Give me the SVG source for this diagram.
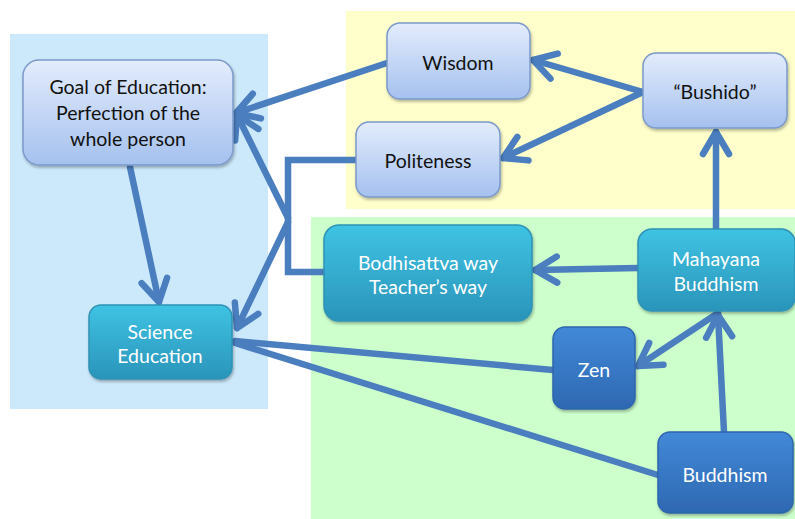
<svg xmlns="http://www.w3.org/2000/svg" width="795" height="519" viewBox="0 0 795 519">
<defs>
<linearGradient id="gLight" x1="0" y1="0" x2="0" y2="1"><stop offset="0" stop-color="#e3ecfc"/><stop offset="1" stop-color="#a5c1ef"/></linearGradient>
<linearGradient id="gTeal" x1="0" y1="0" x2="0" y2="1"><stop offset="0" stop-color="#3fc3e3"/><stop offset="1" stop-color="#2a94ba"/></linearGradient>
<linearGradient id="gDark" x1="0" y1="0" x2="0" y2="1"><stop offset="0" stop-color="#4289d8"/><stop offset="1" stop-color="#2e68b2"/></linearGradient>
<filter id="sh" x="-10%" y="-10%" width="130%" height="130%"><feDropShadow dx="1" dy="2" stdDeviation="1.5" flood-color="#000" flood-opacity="0.3"/></filter>
<marker id="arr" markerUnits="userSpaceOnUse" viewBox="-30 -17 34 34" markerWidth="34" markerHeight="34" refX="0" refY="0" orient="auto">
<path d="M-22,-13 L0,0 L-22,13" fill="none" stroke="#4a7ebf" stroke-width="6.5" stroke-linecap="round" stroke-linejoin="round"/>
</marker>
<style>
.light{fill:url(#gLight);stroke:#7b99c9;stroke-width:1.5;filter:url(#sh)}
.teal{fill:url(#gTeal);stroke:#2f93b5;stroke-width:1.5;filter:url(#sh)}
.dark{fill:url(#gDark);stroke:#2f66ad;stroke-width:1.5;filter:url(#sh)}
text{font-family:Lato,"Open Sans","Liberation Sans",sans-serif;font-size:19.5px;text-anchor:middle;dominant-baseline:central}
.tl{fill:#111}
.tw{fill:#fff}
.c{fill:none;stroke:#4a7ebf;stroke-width:6.5;stroke-linecap:round;stroke-linejoin:miter}
</style>
</defs>
<g id="regions">
<rect x="10" y="34" width="258" height="375" fill="#cce9fb"/>
<rect x="346" y="11" width="449" height="198" fill="#ffffcc"/>
<rect x="311" y="217" width="484" height="302" fill="#ccffcc"/>
</g>
<g id="connectors">
<path class="c" d="M356,160 H288 V272 H324"/>
<path class="c" d="M387,63 L236,113" marker-end="url(#arr)"/>
<path class="c" d="M643,92 L533,60" marker-end="url(#arr)"/>
<path class="c" d="M643,92 L503,158" marker-end="url(#arr)"/>
<path class="c" d="M716,229 L716,132" marker-end="url(#arr)"/>
<path class="c" d="M638,268 L535,270" marker-end="url(#arr)"/>
<path class="c" d="M718,313 L638,366" marker-end="url(#arr)"/>
<path class="c" d="M724,432 L718,315" marker-end="url(#arr)"/>
<path class="c" d="M130,167 L159,302" marker-end="url(#arr)"/>
<path class="c" d="M288,218 L237,115" marker-end="url(#arr)"/>
<path class="c" d="M288,222 L237,328" marker-end="url(#arr)"/>
<path class="c" d="M553,370 L235,341"/>
<path class="c" d="M658,475 L235,343"/>
</g>
<g id="goal"><rect class="light" x="23" y="60" width="210" height="105" rx="16"/>
<text class="tl" x="128" y="86">Goal of Education:</text><text class="tl" x="128" y="112">Perfection of the</text><text class="tl" x="128" y="138">whole person</text></g>
<g id="wisdom"><rect class="light" x="387" y="23" width="143" height="76" rx="13"/><text class="tl" x="458" y="62">Wisdom</text></g>
<g id="bushido"><rect class="light" x="643" y="53" width="144" height="75" rx="13"/><text class="tl" x="715" y="91">“Bushido”</text></g>
<g id="politeness"><rect class="light" x="356" y="122" width="144" height="75" rx="13"/><text class="tl" x="428" y="160">Politeness</text></g>
<g id="bodhisattva"><rect class="teal" x="324" y="225" width="208" height="96" rx="15"/><text class="tw" x="428" y="262">Bodhisattva way</text><text class="tw" x="428" y="286">Teacher’s way</text></g>
<g id="mahayana"><rect class="teal" x="638" y="229" width="157" height="82" rx="14"/><text class="tw" x="716" y="258">Mahayana</text><text class="tw" x="716" y="283">Buddhism</text></g>
<g id="zen"><rect class="dark" x="553" y="327" width="82" height="82" rx="12"/><text class="tw" x="594" y="369">Zen</text></g>
<g id="buddhism"><rect class="dark" x="658" y="432" width="135" height="81" rx="12"/><text class="tw" x="725" y="474">Buddhism</text></g>
<g id="science"><rect class="teal" x="89" y="305" width="143" height="74" rx="12"/><text class="tw" x="160" y="331">Science</text><text class="tw" x="160" y="355">Education</text></g>
</svg>
